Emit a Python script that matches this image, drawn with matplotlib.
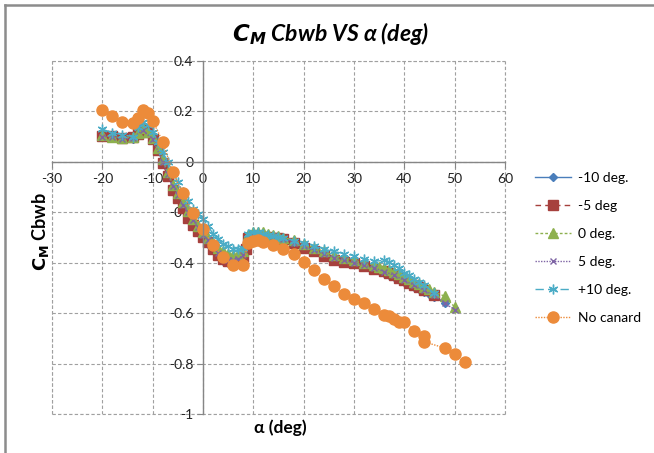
import matplotlib
matplotlib.use("Agg")
import matplotlib.pyplot as plt
from matplotlib.lines import Line2D
from matplotlib.ticker import FuncFormatter

plt.rcParams['font.family'] = ['Lato', 'DejaVu Sans']

# ---- data: pitching moment coefficient vs angle of attack ----
alpha_m10 = [-20, -18, -16, -14, -13, -12, -11, -10, -9, -8, -7, -6, -5, -4, -3, -2, -1, 0, 1, 2, 3, 4, 5, 6, 7, 8,
             9, 10, 11, 12, 13, 14, 15, 16, 18, 20, 22, 24, 26, 28, 30, 32, 34, 36, 37, 38, 39, 40, 41, 42, 43, 44,
             45, 46, 48]
cm_m10 = [0.10, 0.10, 0.09, 0.09, 0.11, 0.125, 0.115, 0.09, 0.05, 0.0, -0.05, -0.10, -0.135, -0.175, -0.21, -0.24,
          -0.27, -0.30, -0.325, -0.35, -0.375, -0.395, -0.40, -0.40, -0.395, -0.38,
          -0.31, -0.29, -0.29, -0.295, -0.298, -0.30, -0.302, -0.31, -0.325, -0.34, -0.355, -0.37, -0.385, -0.395,
          -0.405, -0.415, -0.425, -0.44, -0.447, -0.455, -0.465, -0.475, -0.485, -0.495, -0.505, -0.515,
          -0.525, -0.535, -0.56]

alpha_m5 = [-20, -18, -16, -14, -13, -12, -11, -10, -9, -8, -7, -6, -5, -4, -3, -2, -1, 0, 1, 2, 3, 4, 5, 6, 7, 8,
            8.5, 9, 10, 11, 12, 13, 14, 15, 16, 18, 20, 22, 24, 26, 28, 30, 32, 34, 36, 37, 38, 39, 40, 41, 42, 43,
            44, 46]
cm_m5 = [0.103, 0.103, 0.094, 0.098, 0.111, 0.13, 0.117, 0.09, 0.048, -0.005, -0.058, -0.111, -0.144, -0.184,
         -0.223, -0.25, -0.276, -0.298, -0.318, -0.345, -0.37, -0.385, -0.392, -0.392, -0.388, -0.378,
         -0.345, -0.302, -0.293, -0.293, -0.297, -0.299, -0.301, -0.302, -0.306, -0.322, -0.342, -0.355, -0.372,
         -0.388, -0.398, -0.403, -0.414, -0.423, -0.434, -0.442, -0.45, -0.46, -0.47, -0.479, -0.489, -0.498,
         -0.507, -0.527]

alpha_0 = [-20, -18, -16, -14, -13, -12, -11, -10, -9, -8, -7, -6, -5, -4, -3, -2, -1, 0, 1, 2, 3, 4, 5, 6, 7, 8,
           9, 10, 11, 12, 13, 14, 15, 16, 18, 20, 22, 24, 26, 28, 30, 32, 34, 35, 36, 37, 38, 39, 40, 41, 42, 43,
           44, 45, 46, 48, 50]
cm_0 = [0.105, 0.10, 0.095, 0.10, 0.115, 0.135, 0.12, 0.095, 0.055, 0.01, -0.04, -0.09, -0.125, -0.16, -0.195,
        -0.225, -0.255, -0.28, -0.30, -0.32, -0.34, -0.355, -0.365, -0.37, -0.365, -0.355,
        -0.29, -0.28, -0.278, -0.28, -0.285, -0.29, -0.295, -0.30, -0.31, -0.325, -0.34, -0.355, -0.37, -0.38,
        -0.39, -0.40, -0.41, -0.415, -0.42, -0.428, -0.435, -0.445, -0.455, -0.465, -0.475, -0.485,
        -0.495, -0.505, -0.515, -0.533, -0.575]

alpha_5 = [-20, -18, -16, -14, -12, -10, -8, -7, -6, -5, -4, -3, -2, -1, 0, 1, 2, 3, 4, 5, 6, 7, 8,
           9, 10, 12, 14, 16, 18, 20, 22, 24, 26, 28, 30, 32, 34, 36, 38, 40, 42, 44, 46, 48, 50]
cm_5 = [0.10, 0.10, 0.09, 0.095, 0.125, 0.09, 0.0, -0.05, -0.095, -0.13, -0.17, -0.20, -0.23, -0.26, -0.29,
        -0.31, -0.335, -0.36, -0.38, -0.39, -0.39, -0.385, -0.37,
        -0.30, -0.285, -0.29, -0.295, -0.305, -0.32, -0.335, -0.35, -0.365, -0.38, -0.39, -0.40, -0.41, -0.42,
        -0.435, -0.45, -0.47, -0.49, -0.51, -0.53, -0.56, -0.586]

alpha_p10 = [-20, -18, -16, -14, -13, -12, -11, -10, -9, -8, -7, -6, -5, -4, -3, -2, -1, 0, 1, 2, 3, 4, 5, 6, 7, 8,
             9, 10, 11, 12, 13, 14, 15, 16, 18, 20, 22, 24, 26, 28, 30, 32, 34, 36, 37, 38, 39, 40, 41, 42, 43,
             44, 46]
cm_p10 = [0.13, 0.115, 0.108, 0.10, 0.14, 0.16, 0.145, 0.12, 0.08, 0.04, 0.0, -0.04, -0.08, -0.12, -0.155, -0.185,
          -0.205, -0.225, -0.255, -0.285, -0.305, -0.325, -0.335, -0.345, -0.345, -0.34,
          -0.285, -0.28, -0.28, -0.285, -0.29, -0.295, -0.298, -0.302, -0.312, -0.32, -0.333, -0.346, -0.355,
          -0.364, -0.372, -0.384, -0.394, -0.391, -0.399, -0.41, -0.42, -0.44, -0.45, -0.465, -0.475,
          -0.49, -0.52]

alpha_nc = [-20, -18, -16, -14, -13, -12, -11, -10, -8, -6, -4, -2, 0, 2, 4, 6, 8, 9, 10, 11, 12, 14, 16, 18, 20,
            22, 24, 26, 28, 30, 32, 34, 36, 37, 38, 39, 40, 42, 44, 44, 48, 50, 52]
cm_nc = [0.206, 0.18, 0.16, 0.156, 0.173, 0.206, 0.193, 0.164, 0.08, -0.042, -0.124, -0.203, -0.265, -0.33,
         -0.379, -0.409, -0.409, -0.322, -0.313, -0.309, -0.317, -0.329, -0.346, -0.364, -0.396,
         -0.428, -0.466, -0.492, -0.523, -0.545, -0.561, -0.585, -0.606, -0.613, -0.623, -0.636, -0.634,
         -0.669, -0.69, -0.714, -0.738, -0.763, -0.793]

x_ticks = [-30, -20, -10, 0, 10, 20, 30, 40, 50, 60]
y_ticks = [0.4, 0.2, 0, -0.2, -0.4, -0.6, -0.8, -1]

fig = plt.figure(figsize=(6.54, 4.53), dpi=100)
ax = fig.add_axes([0.0795, 0.0861, 0.6925, 0.7792])

series = [
    (alpha_m10, cm_m10, '-10 deg.', '#4A7EBB', '-', 'D', 4.5),
    (alpha_m5, cm_m5, '-5 deg', '#A6403D', (0, (4, 3)), 's', 7.5),
    (alpha_0, cm_0, '0 deg.', '#8DB04E', (0, (2, 1.5)), '^', 7),
    (alpha_5, cm_5, '5 deg.', '#7E64A4', (0, (1, 1)), 'x', 5),
    (alpha_p10, cm_p10, '+10 deg.', '#4BACC6', (0, (6, 3)), (6, 2, 0), 7),
    (alpha_nc, cm_nc, 'No canard', '#EC8B3A', (0, (1, 1)), 'o', 8),
]

for xs, ys, lab, col, ls, mk, ms in series:
    ax.plot(xs, ys, color=col, linestyle=ls, linewidth=1.0, marker=mk, markersize=ms,
            markeredgewidth=1.0, markeredgecolor=col, markerfacecolor=col, label=lab)

ax.set_xlim(-30, 60)
ax.set_ylim(-1, 0.4)
ax.set_xticks(x_ticks)
ax.set_yticks(y_ticks)
ax.xaxis.set_major_formatter(FuncFormatter(lambda v, p: f'{v:g}'))
ax.yaxis.set_major_formatter(FuncFormatter(lambda v, p: f'{v:g}'))

# axes cross at the origin
ax.spines['left'].set_position(('data', 0))
ax.spines['bottom'].set_position(('data', 0))
for s in ('left', 'bottom'):
    ax.spines[s].set_color('#868686')
    ax.spines[s].set_linewidth(1.0)
for s in ('top', 'right'):
    ax.spines[s].set_visible(False)
ax.tick_params(axis='both', length=4, width=0.8, color='#868686', labelsize=10, labelcolor='#222222')
ax.tick_params(axis='x', direction='out', pad=4)
ax.tick_params(axis='y', direction='out', pad=3)

ax.grid(True, color='#A0A0A0', linestyle=(0, (3, 2)), linewidth=0.8)
ax.set_axisbelow(True)
for xv in (-30, 60):
    ax.axvline(xv, color='#A0A0A0', linestyle=(0, (3, 2)), linewidth=0.8, clip_on=False, zorder=0)
for yv in (0.4, -1):
    ax.axhline(yv, color='#A0A0A0', linestyle=(0, (3, 2)), linewidth=0.8, clip_on=False, zorder=0)

fig.text(0.505, 0.927, r'$\mathbfit{C_M}$ Cbwb VS α (deg)', ha='center', va='center',
         fontsize=16.5, fontweight='bold', fontstyle='italic')
fig.text(0.062, 0.49, r'$\mathbf{C_M}$ Cbwb', rotation=90, ha='center', va='center',
         fontsize=13, fontweight='bold')
fig.text(0.428, 0.055, 'α (deg)', ha='center', va='center', fontsize=12.5, fontweight='bold')

leg = fig.legend(loc='upper left', bbox_to_anchor=(535 / 654, 1 - 172 / 453), frameon=False, fontsize=10,
                 handlelength=2.6, labelspacing=1.15, handletextpad=0.5, borderpad=0, borderaxespad=0)

# chart frame
fig.add_artist(Line2D([0.008, 1.0], [0.989, 0.989], transform=fig.transFigure, color='#8C8C8C', linewidth=1.8))
fig.add_artist(Line2D([0.008, 0.008], [0.0, 0.989], transform=fig.transFigure, color='#8C8C8C', linewidth=1.8))

fig.savefig('out.png', dpi=100)
